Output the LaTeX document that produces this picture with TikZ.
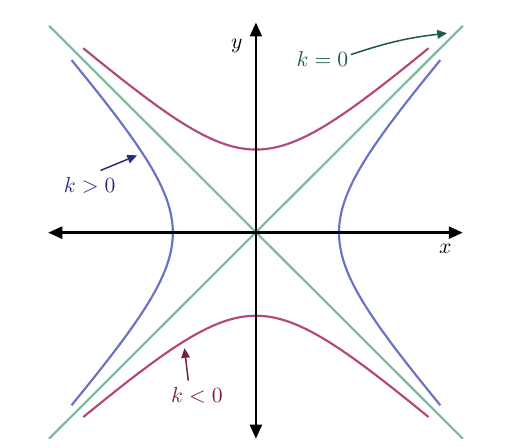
\documentclass[tikz,border=0pt]{standalone}
\usepackage{tikz}
\usetikzlibrary{arrows.meta, positioning}
\definecolor{hypblue}{HTML}{6A72C6}
\definecolor{hypred}{HTML}{B3487C}
\definecolor{asymgreen}{HTML}{7DB99C}
\definecolor{labblue}{HTML}{28307A}
\definecolor{labgreen}{HTML}{1E5A46}
\definecolor{labred}{HTML}{7A1E48}

\begin{document}
\begin{tikzpicture}[
    x=1.35cm, y=1.35cm,
    axis/.style={{Triangle[length=6.5pt,width=5.5pt]}-{Triangle[length=6.5pt,width=5.5pt]},
        line width=1.2pt},
    curve/.style={line width=1pt, samples=80, domain=-1.478:1.478},
    asym/.style={asymgreen, line width=1pt},
    pointer/.style={-{Triangle[length=4.5pt,width=4pt]}, line width=0.7pt},
    lab/.style={inner sep=1pt}
]
\useasboundingbox (-3.08,-2.59) rectangle (3.13,2.80);

% asymptotes
\coordinate (ul) at (-2.49,2.49);
\coordinate (ur) at (2.49,2.49);
\coordinate (ll) at (-2.49,-2.48);
\coordinate (lr) at (2.49,-2.48);
\draw[asym] (ul) -- (lr);
\draw[asym] (ll) -- (ur);

% hyperbolas
\draw[curve, hypblue] plot ({cosh(\x)-0.02*sinh(\x)^2}, {sinh(\x)});
\draw[curve, hypblue] plot ({-cosh(\x)+0.02*sinh(\x)^2}, {sinh(\x)});
\draw[curve, hypred] plot ({sinh(\x)}, {cosh(\x)-0.02*sinh(\x)^2});
\draw[curve, hypred] plot ({sinh(\x)}, {-cosh(\x)+0.02*sinh(\x)^2});

% axes
\coordinate (xmin) at (-2.50,0);
\coordinate (xmax) at (2.49,0);
\coordinate (ymin) at (0,-2.48);
\coordinate (ymax) at (0,2.53);
\draw[axis] (xmin) -- (xmax);
\draw[axis] (ymin) -- (ymax);
\node[lab] (xlab) at (2.28,-0.19) {$x$};
\node[lab] (ylab) at (-0.23,2.25) {$y$};

% labels
\node[lab, text=labgreen] (kzero) at (0.80,2.09) {$k=0$};
\coordinate (kzerotip) at (2.30,2.40);
\draw[pointer, labgreen] ([yshift=2pt]kzero.east) to[bend left=6] (kzerotip);

\node[lab, text=labblue] (kpos) at (-2.0,0.57) {$k>0$};
\coordinate (kpostip) at (-1.43,0.93);
\draw[pointer, labblue] ([xshift=5pt,yshift=2pt]kpos.north) -- (kpostip);

\node[lab, text=labred] (kneg) at (-0.71,-1.96) {$k<0$};
\coordinate (knegtip) at (-0.86,-1.39);
\draw[pointer, labred] ([xshift=-4pt,yshift=2pt]kneg.north) -- (knegtip);
\end{tikzpicture}
\end{document}
